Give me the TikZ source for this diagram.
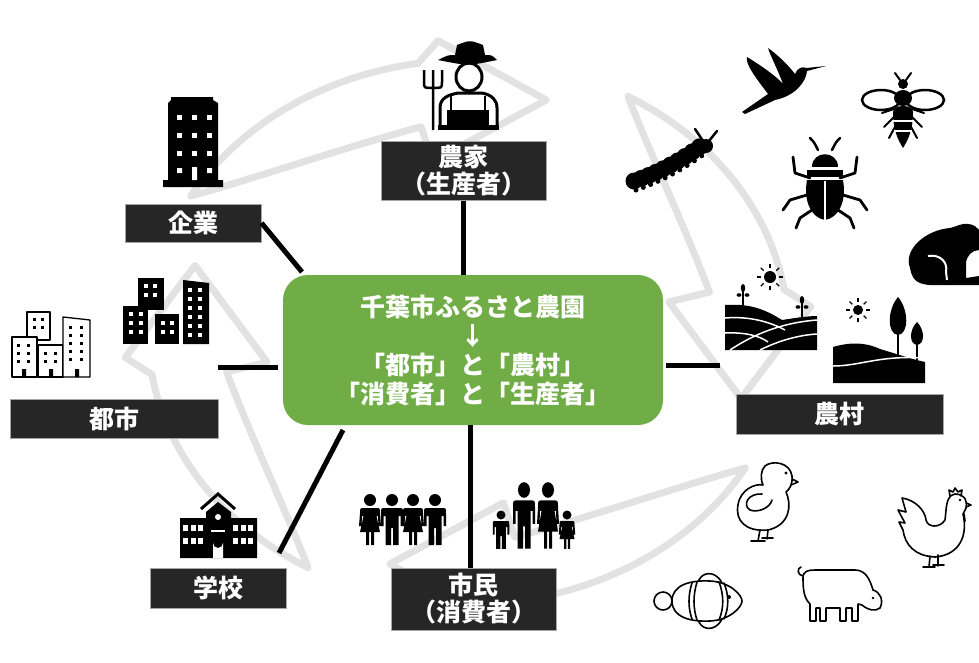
\documentclass[tikz,border=0pt]{standalone}
\usepackage{fontspec}
\setmainfont{Noto Sans CJK JP}
\usepackage{xcolor}
\usetikzlibrary{positioning}

\definecolor{leaf}{HTML}{70AD47}
\definecolor{tag}{HTML}{262626}
\definecolor{ring}{HTML}{E2E2E2}

\begin{document}
\begin{tikzpicture}[
  x=1pt, y=-1pt,
  tagbox/.style={
    fill=tag,
    draw=gray!70,
    line width=1pt,
    text=white,
    align=center,
    inner sep=0pt,
    font=\fontsize{25}{27}\selectfont\bfseries
  },
  hub/.style={
    fill=leaf,
    rounded corners=25pt,
    text=white,
    align=center,
    minimum width=380pt,
    minimum height=150pt,
    font=\fontsize{25}{29}\selectfont\bfseries
  },
  link/.style={line width=5pt},
  outline/.style={draw=black, line width=1.6pt, line join=round, line cap=round, fill=white}
]
  \useasboundingbox (0,0) rectangle (979,662);

  % cycle arrows in the background
  \begin{scope}[shift={(468,332)}, y=-0.85pt]
    \foreach \o in {0,90,180,270}
      \draw[ring, line width=7pt, line join=round]
        (\o+120:320) arc[start angle=\o+120, end angle=\o+171, radius=320]
        -- (\o+175:344) -- (\o+196:284) -- (\o+170:204) -- (\o+169:246)
        .. controls (\o+150:250) and (\o+132:275) .. (\o+120:320) -- cycle;
  \end{scope}

  % boxes
  \node[hub] (green) at (473,350) {千葉市ふるさと農園\\↓\\「都市」と「農村」\\「消費者」と「生産者」};
  \node[tagbox, minimum width=165pt, minimum height=59pt] (farmer) at (463.5,170.5) {農家\\（生産者）};
  \node[tagbox, minimum width=136pt, minimum height=38pt] (kigyo) at (193,223) {企業};
  \node[tagbox, minimum width=208pt, minimum height=39pt] (toshi) at (114,418.5) {都市};
  \node[tagbox, minimum width=136pt, minimum height=40pt] (gakkou) at (218,588) {学校};
  \node[tagbox, minimum width=165pt, minimum height=62pt] (shimin) at (473.5,599) {市民\\（消費者）};
  \node[tagbox, minimum width=207pt, minimum height=40pt] (noson) at (839.5,414) {農村};

  % connectors
  \coordinate (kigyo end) at (302,272);
  \coordinate (toshi a) at (218,367);
  \coordinate (toshi b) at (278,367);
  \coordinate (gakkou a) at (343,430);
  \coordinate (gakkou b) at (279,553);
  \coordinate (noson a) at (666,365);
  \coordinate (noson b) at (720,365);
  \draw[link] (farmer.south) -- (farmer.south |- green.north);
  \draw[link] (kigyo.east) -- (kigyo end);
  \draw[link] (toshi a) -- (toshi b);
  \draw[link] (gakkou a) -- (gakkou b);
  \draw[link] ([xshift=-3pt]shimin.north) -- ([xshift=-3pt]shimin.north |- green.south);
  \draw[link] (noson a) -- (noson b);

  % office tower
  \fill (171,97) -- (213,97) -- (213,100) -- (218,103) -- (218,180) -- (223,180) -- (223,187)
    -- (163,187) -- (163,180) -- (168,180) -- (168,103) -- (171,100) -- cycle;
  \foreach \r in {115,133,151}
    \foreach \c in {177,192,207}
      \fill[white] (\c,\r) rectangle ++(5,5);
  \fill[white] (177,168) rectangle ++(5,5) (207,168) rectangle ++(5,5) (192,167) rectangle (197,180);

  % city blocks, filled
  \fill (138,278) rectangle (164,310);
  \fill (123,306) rectangle (148,344);
  \fill (155,314) rectangle (179,344);
  \fill (183,280) -- (209,283) -- (209,344) -- (183,344) -- cycle;
  \foreach \c in {144,153} \foreach \r in {284,293} \fill[white] (\c,\r) rectangle ++(4,4);
  \foreach \c in {129,139} \foreach \r in {312,321,330} \fill[white] (\c,\r) rectangle ++(4,4);
  \foreach \c in {161,170} \foreach \r in {321,330} \fill[white] (\c,\r) rectangle ++(4,4);
  \foreach \c in {188,198} \foreach \r in {288,297,306,315,324,333} \fill[white] (\c,\r) rectangle ++(4,4);

  % city blocks, outlined
  \draw[outline, line width=1.3pt] (27,312) rectangle (50,340);
  \draw[outline, line width=1.3pt] (12,337) rectangle (37,377);
  \draw[outline, line width=1.3pt] (38,345) rectangle (63,377);
  \draw[outline, line width=1.3pt] (63,317) -- (90,320) -- (90,377) -- (63,377) -- cycle;
  \foreach \c in {33,41} \foreach \r in {318,326} \fill (\c,\r) rectangle ++(3,3);
  \foreach \c in {17,27} \foreach \r in {344,352,360} \fill (\c,\r) rectangle ++(3,3);
  \foreach \c in {44,54} \foreach \r in {352,360} \fill (\c,\r) rectangle ++(3,3);
  \foreach \c in {69,80} \foreach \r in {326,334,342,350,358} \fill (\c,\r) rectangle ++(3,3);
  \fill (22,369) rectangle ++(4,8) (49,369) rectangle ++(4,8) (75,369) rectangle ++(4,8);

  % farmer with pitchfork
  \draw[line width=3pt, fill=white] (440,128) -- (440,108) .. controls (440,98) and (448,95) .. (458,93)
    -- (482,93) .. controls (492,95) and (497,100) .. (497,108) -- (497,128);
  \fill (447,128) -- (447,110) -- (489,110) -- (489,128) -- cycle;
  \draw[line width=2.5pt] (451,110) -- (451,96) (485,110) -- (485,96);
  \fill (438,125) rectangle (499,130);
  \draw[line width=3pt, fill=white] (469,77) ellipse (13 and 14);
  \fill (438,60) .. controls (448,55) .. (455,55) -- (457,45) .. controls (470,40) .. (483,45)
    -- (485,55) .. controls (492,55) .. (497,60) .. controls (468,66) .. (438,60) -- cycle;
  \draw[line width=2.5pt] (433,70) -- (433,130)
    (424,70) -- (424,82) .. controls (424,88) .. (433,88) .. controls (442,88) .. (442,82) -- (442,70);

  % school
  \draw[line width=3pt] (201,509) -- (218,494) -- (235,509);
  \fill (206,512) -- (218,502) -- (231,512) -- (231,518) -- (257,518) -- (257,558) -- (180,558) -- (180,518) -- (206,518) -- cycle;
  \foreach \c in {183,190.5,198,233,240.5,248}
    \foreach \r in {525,538}
      \fill[white] (\c,\r) rectangle ++(5,6);
  \fill[white] (218,517) circle (3);
  \fill[white] (211,530) rectangle (225,532);
  \fill[white] (213,558) -- (213,543) arc[start angle=180, end angle=0, radius=5] -- (223,558) -- cycle;

  % people: group of four, then family
  \foreach \x/\y/\sx/\sy/\w in {370/500/1/1/0, 392/500/1/1/1, 413/500/1/1/0, 435/500/1/1/1,
                              524/490/1/1.3/1, 548/490/1/1.3/0, 501/515/0.75/0.75/1, 567/515/0.75/0.75/0} {
    \begin{scope}[shift={(\x,\y)}, xscale=\sx, yscale=\sy]
      \fill (0,0) circle (6);
      \ifnum\w=1
        \fill (-11,26) -- (-11,13) .. controls (-11,8) .. (-6,8) -- (6,8) .. controls (11,8) .. (11,13)
          -- (11,26) -- (8.5,26) -- (8.5,16) -- (6.5,16) -- (6.5,45) -- (1,45) -- (1,28) -- (-1,28)
          -- (-1,45) -- (-6.5,45) -- (-6.5,16) -- (-8.5,16) -- (-8.5,26) -- cycle;
      \else
        \fill (-11,26) -- (-10,13) .. controls (-10,8) .. (-5,8) -- (5,8) .. controls (10,8) .. (10,13)
          -- (11,26) -- (8.5,26) -- (8,16) -- (6.5,16) -- (10,32) -- (4,32) -- (4,45) -- (1,45)
          -- (1,32) -- (-1,32) -- (-1,45) -- (-4,45) -- (-4,32) -- (-10,32) -- (-6.5,16) -- (-8,16)
          -- (-8.5,26) -- cycle;
      \fi
    \end{scope}
  }

  % caterpillar
  \foreach \i in {0,...,9} {
    \fill (634+7.3*\i, 181-3.8*\i-0.15*\i*\i+0.15*\i*9) circle (8.5);
    \fill (636+7.3*\i, 190-3.8*\i-0.15*\i*\i+0.15*\i*9) circle (2.5);
  }
  \fill (706,146) circle (7);
  \draw[line width=2.5pt, line cap=round] (703,141) -- (695,129) (709,141) -- (717,131);

  % hummingbird
  \fill (742,112) -- (768,94) .. controls (756,78) and (745,64) .. (747,57)
    .. controls (760,65) and (775,75) .. (783,84) .. controls (778,70) and (770,55) .. (768,48)
    .. controls (782,58) and (792,70) .. (795,74) .. controls (797,68) and (803,66) .. (806,68)
    -- (826,66) -- (807,71) .. controls (806,82) and (795,96) .. (775,100) -- (745,114) -- cycle;

  % bee
  \draw[line width=2.5pt, fill=white] (881,100) ellipse (19 and 10) (925,100) ellipse (19 and 10);
  \draw[line width=2pt, line cap=round] (900,80) -- (895,73) (906,80) -- (911,73)
    (894,109) -- (882,113) (894,117) -- (884,127) (896,125) -- (889,138)
    (912,109) -- (924,113) (912,117) -- (922,127) (910,125) -- (917,138);
  \fill (903,84) circle (5);
  \fill (903,98) ellipse (9 and 8);
  \fill (893,112) .. controls (893,104) and (913,104) .. (913,112) .. controls (913,130) and (908,140) .. (903,148)
    .. controls (898,140) and (893,130) .. (893,112) -- cycle;
  \draw[white, line width=2pt] (892,121) -- (914,121) (894,131) -- (912,131);

  % beetle
  \draw[line width=2.8pt, line cap=round, line join=round]
    (810,178) -- (795,173) -- (793,157) (840,178) -- (855,173) -- (857,157)
    (807,195) -- (790,200) -- (783,210) (843,195) -- (860,200) -- (867,210)
    (812,210) -- (800,218) -- (796,228) (838,210) -- (850,218) -- (854,228);
  \draw[line width=2.5pt, line cap=round] (818,150) .. controls (814,142) .. (810,138) (832,150) .. controls (836,142) .. (840,138);
  \fill (812,167) .. controls (812,150) and (838,150) .. (838,167) -- cycle;
  \fill (807,170) rectangle (843,177);
  \fill (807,180) -- (843,180) .. controls (847,202) and (838,218) .. (825,220) .. controls (812,218) and (803,202) .. (807,180) -- cycle;
  \draw[white, line width=1.5pt] (825,181) -- (825,221);

  % frog, facing right
  \fill (910,268) .. controls (903,250) and (925,230) .. (950,228) .. controls (958,226) and (962,223) .. (968,224)
    .. controls (974,224) and (977,228) .. (979,230) -- (979,250) .. controls (972,250) and (966,256) .. (966,264)
    -- (966,278) -- (979,276) -- (979,285) -- (930,285) .. controls (915,284) and (912,278) .. (910,268) -- cycle;
  \draw[white, line width=2pt] (928,256) .. controls (940,254) and (948,262) .. (946,272) -- (947,280);

  % field with sun
  \fill (770,277) circle (6);
  \foreach \a in {0,45,...,315}
    \draw[line width=1.3pt] (770,277) ++(\a:9) -- ++(\a:4);
  \fill (725,350) -- (725,305) .. controls (745,304) and (760,306) .. (782,320)
    .. controls (795,318) and (808,316) .. (817,316) -- (817,350) -- cycle;
  \draw[white, line width=1.5pt]
    (725,318) .. controls (750,316) and (770,322) .. (785,330)
    (725,333) .. controls (745,332) and (760,336) .. (768,342)
    (730,350) .. controls (760,330) and (790,322) .. (817,320)
    (760,350) .. controls (780,340) and (800,335) .. (817,334);
  \draw[line width=1.5pt] (743,306) -- (743,290) (802,318) -- (802,302);
  \fill (743,288) ellipse (2.2 and 4) (739,295) ellipse (2.5 and 1.8) (747,295) ellipse (2.5 and 1.8);
  \fill (802,300) ellipse (2.2 and 4) (798,307) ellipse (2.5 and 1.8) (806,307) ellipse (2.5 and 1.8);

  % hills with trees and sun
  \fill (858,310) circle (5);
  \foreach \a in {0,45,...,315}
    \draw[line width=1.3pt] (858,310) ++(\a:8) -- ++(\a:4);
  \draw[line width=2.5pt] (898,330) -- (898,360) (917,340) -- (917,362);
  \fill (898,297) .. controls (909,310) and (909,334) .. (898,335) .. controls (887,334) and (887,310) .. (898,297) -- cycle;
  \fill (917,322) .. controls (925,330) and (925,344) .. (917,345) .. controls (909,344) and (909,330) .. (917,322) -- cycle;
  \fill (833,383) -- (833,347) .. controls (850,342) and (865,342) .. (880,349)
    .. controls (900,355) and (915,360) .. (925,362) -- (925,383) -- cycle;
  \draw[white, line width=1.5pt] (833,366) .. controls (860,366) and (880,355) .. (925,358);

  % chick
  \draw[outline] (765,466) .. controls (772,460) and (790,462) .. (792,476) .. controls (793,484) and (789,490) .. (786,492)
    .. controls (792,505) and (790,525) .. (768,530) .. controls (745,532) and (735,520) .. (738,505)
    .. controls (740,490) and (755,483) .. (763,485) .. controls (760,478) and (761,470) .. (765,466) -- cycle;
  \draw[outline, fill=none] (792,479) -- (798,482) -- (791,485)
    (762,494) .. controls (748,493) and (742,505) .. (750,510) .. controls (758,513) and (770,508) .. (772,500)
    (760,530) -- (758,541) (768,530) -- (767,539) (751,541) -- (765,541) (762,538) -- (773,538);
  \fill (786,473) circle (1.6);

  % rooster
  \draw[outline] (955,494) .. controls (965,494) and (968,502) .. (966,508) -- (963,514)
    .. controls (968,535) and (960,555) .. (935,557) .. controls (915,556) and (905,545) .. (903,530)
    -- (899,522) -- (905,523) -- (898,510) -- (906,512) -- (902,498)
    .. controls (915,500) and (925,510) .. (926,520) .. controls (928,528) and (940,528) .. (945,520)
    .. controls (946,512) and (946,505) .. (948,500) .. controls (950,496) and (952,494) .. (955,494) -- cycle;
  \draw[outline, fill=none] (950,496) -- (949,490) -- (953,492) -- (955,488) -- (958,492) -- (962,490) -- (961,496)
    (966,503) -- (971,505) -- (966,507) (964,514) -- (965,521)
    (930,556) -- (929,567) (938,555) -- (938,566) (923,567) -- (935,567) (933,565) -- (944,565);
  \fill (960,500) circle (1.4);

  % clownfish
  \draw[outline] (698,583) .. controls (700,572) and (715,569) .. (722,583);
  \draw[outline] (698,619) .. controls (700,630) and (715,633) .. (722,619);
  \draw[outline] (663,601) circle (9);
  \draw[outline] (672,601) .. controls (672,585) and (690,580) .. (710,581) .. controls (730,582) and (742,595) .. (742,601)
    .. controls (742,607) and (730,620) .. (710,621) .. controls (690,622) and (672,617) .. (672,601) -- cycle;
  \draw[outline, fill=none]
    (692,583) .. controls (688,595) and (688,608) .. (692,619)
    (697,582) .. controls (693,595) and (693,608) .. (697,620)
    (719,582) .. controls (724,595) and (724,608) .. (719,620)
    (724,583) .. controls (729,595) and (729,608) .. (724,619);
  \fill (729,597) circle (2);

  % pig
  \draw[outline] (803,578) .. controls (803,571) and (808,570) .. (815,570) -- (855,570)
    .. controls (866,570) and (870,580) .. (873,590) .. controls (880,592) and (884,600) .. (880,608)
    .. controls (875,612) and (868,610) .. (862,605) -- (858,604) -- (858,621) -- (852,621) -- (852,608)
    -- (846,608) -- (846,621) -- (840,621) -- (840,608) -- (826,608) -- (826,621) -- (820,621) -- (820,608)
    -- (816,608) -- (816,621) -- (810,621) -- (810,604) .. controls (804,598) and (803,590) .. (803,578) -- cycle;
  \draw[outline, fill=none] (803,576) .. controls (797,575) and (797,568) .. (801,567);
  \fill (873,598) circle (1.4);
\end{tikzpicture}
\end{document}
